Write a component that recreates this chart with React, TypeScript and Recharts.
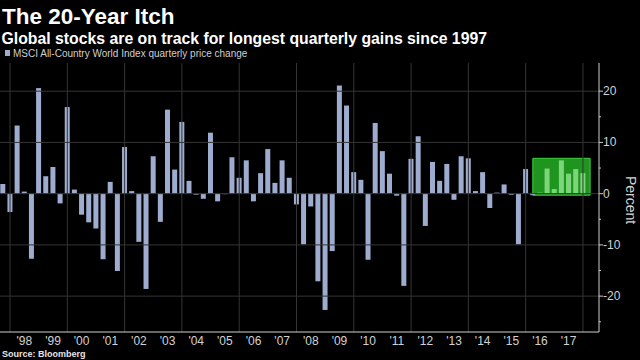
import { BarChart, Bar, XAxis, YAxis, ReferenceLine, ReferenceArea, Cell } from "recharts";

const quarterLabels = [
  "Q3 1997", "Q4 1997",
  "Q1 1998", "Q2 1998", "Q3 1998", "Q4 1998",
  "Q1 1999", "Q2 1999", "Q3 1999", "Q4 1999",
  "Q1 2000", "Q2 2000", "Q3 2000", "Q4 2000",
  "Q1 2001", "Q2 2001", "Q3 2001", "Q4 2001",
  "Q1 2002", "Q2 2002", "Q3 2002", "Q4 2002",
  "Q1 2003", "Q2 2003", "Q3 2003", "Q4 2003",
  "Q1 2004", "Q2 2004", "Q3 2004", "Q4 2004",
  "Q1 2005", "Q2 2005", "Q3 2005", "Q4 2005",
  "Q1 2006", "Q2 2006", "Q3 2006", "Q4 2006",
  "Q1 2007", "Q2 2007", "Q3 2007", "Q4 2007",
  "Q1 2008", "Q2 2008", "Q3 2008", "Q4 2008",
  "Q1 2009", "Q2 2009", "Q3 2009", "Q4 2009",
  "Q1 2010", "Q2 2010", "Q3 2010", "Q4 2010",
  "Q1 2011", "Q2 2011", "Q3 2011", "Q4 2011",
  "Q1 2012", "Q2 2012", "Q3 2012", "Q4 2012",
  "Q1 2013", "Q2 2013", "Q3 2013", "Q4 2013",
  "Q1 2014", "Q2 2014", "Q3 2014", "Q4 2014",
  "Q1 2015", "Q2 2015", "Q3 2015", "Q4 2015",
  "Q1 2016", "Q2 2016", "Q3 2016", "Q4 2016",
  "Q1 2017", "Q2 2017", "Q3 2017", "Q4 2017",
];

// MSCI ACWI quarterly price change, %
const priceChange = [
  1.9, -3.6,
  13.3, 0.4, -12.7, 20.6,
  3.4, 5.2, -1.9, 16.9,
  0.8, -4.1, -5.6, -6.8,
  -12.8, 2.3, -15.1, 9.1,
  0.5, -9.4, -18.6, 7.3,
  -5.5, 16.4, 4.7, 14.0,
  2.5, -0.2, -1.0, 11.9,
  -1.5, -0.1, 7.1, 3.1,
  6.5, -1.5, 4.0, 8.7,
  2.1, 6.5, 3.1, -2.1,
  -9.9, -2.5, -17.1, -22.7,
  -11.2, 21.1, 17.2, 4.2,
  2.7, -12.9, 13.8, 8.3,
  3.9, -0.4, -18.0, 6.8,
  11.2, -6.3, 6.2, 2.5,
  5.8, -1.2, 7.3, 6.9,
  0.5, 4.2, -2.8, 0.2,
  1.8, -0.2, -9.9, 4.8,
  -0.3, 0.2, 4.9, 0.9,
  6.5, 3.9, 4.8, 4.0,
];

const yearBoundaries = [1998, 1999, 2000, 2001, 2002, 2003, 2004, 2005, 2006, 2007, 2008, 2009, 2010, 2011, 2012, 2013, 2014, 2015, 2016, 2017, 2018];
const yearLabels = ["'98", "'99", "'00", "'01", "'02", "'03", "'04", "'05", "'06", "'07", "'08", "'09", "'10", "'11", "'12", "'13", "'14", "'15", "'16", "'17"];
const gridYears = [1998, 2000, 2002, 2004, 2006, 2008, 2010, 2012, 2014, 2016, 2018];
const yTicks = [-25, -20, -15, -10, -5, 0, 5, 10, 15, 20];
const gridValues = [-20, -10, 0, 10, 20];

// streak of gains, Q2 2016 onwards
const highlight = { from: 2016.25, to: 2018.25, top: 6.9, bottom: -0.3, firstQuarter: "Q2 2016" };

const xDomain = [1997.65, 2018.56];
const yDomain = [-27, 25.5];

// quarter-end position on a decimal year scale
const toYear = (label: string) => {
  const [q, y] = label.split(" ");
  return Number(y) + Number(q.slice(1)) / 4;
};

const highlightX = toYear(highlight.firstQuarter);
const data = quarterLabels.map((label, i) => ({ label, x: toYear(label), value: priceChange[i] }));
const labelTicks = yearBoundaries.slice(0, -1).map((y) => y + 0.5);

const FONT = "'Liberation Sans', Arial, sans-serif";

function YTick(props: any) {
  const { x, y, payload } = props;
  const major = payload.value % 10 === 0;
  return (
    <g>
      <line x1={x - 4} x2={major ? x : x - 2} y1={y} y2={y} stroke="#c8c8c8" />
      {major && (
        <text x={x} y={y} dy={4} fill="#d2d2d2" fontSize={12} fontFamily={FONT}>
          {payload.value}
        </text>
      )}
    </g>
  );
}

export default function App() {
  return (
    <div style={{ position: "absolute", left: 0, top: 0, width: 640, height: 360, background: "#000", fontFamily: FONT, overflow: "hidden" }}>
      <div style={{ position: "absolute", left: 2, top: 5.5, fontSize: 22.5, lineHeight: 1, fontWeight: 700, color: "#fff", whiteSpace: "nowrap" }}>
        The 20-Year Itch
      </div>
      <div style={{ position: "absolute", left: 1.5, top: 30.6, fontSize: 15.8, lineHeight: 1, fontWeight: 700, color: "#fff", whiteSpace: "nowrap" }}>
        Global stocks are on track for longest quarterly gains since 1997
      </div>
      <div style={{ position: "absolute", left: 5, top: 50, width: 5, height: 6, background: "#9eaccf" }} />
      <div style={{ position: "absolute", left: 13, top: 49, fontSize: 10, lineHeight: 1, color: "#cfcfcf", whiteSpace: "nowrap" }}>
        MSCI All-Country World Index quarterly price change
      </div>
      <BarChart width={640} height={360} data={data} margin={{ top: 63, right: 0, left: 0, bottom: 26 }}>
        {gridValues.map((v) => (
          <ReferenceLine key={"h" + v} y={v} stroke="#353535" />
        ))}
        {gridYears.map((v) => (
          <ReferenceLine key={"v" + v} x={v} stroke="#353535" />
        ))}
        <ReferenceArea
          x1={highlight.from}
          x2={highlight.to}
          y1={highlight.bottom}
          y2={highlight.top}
          fill="#1f951f"
          fillOpacity={1}
          stroke="#3fcf3f"
          strokeWidth={1}
        />
        <XAxis
          dataKey="x"
          type="number"
          domain={xDomain}
          ticks={yearBoundaries}
          interval={0}
          height={1}
          tick={false}
          tickSize={15}
          tickLine={{ stroke: "#8a8a8a" }}
          axisLine={{ stroke: "#cfcfcf" }}
          allowDataOverflow
        />
        <XAxis
          xAxisId="lab"
          dataKey="x"
          type="number"
          domain={xDomain}
          ticks={labelTicks}
          interval={0}
          height={1}
          tickLine={false}
          axisLine={false}
          tickSize={3}
          tickMargin={0}
          tickFormatter={(v: number) => yearLabels[Math.floor(v) - yearBoundaries[0]]}
          tick={{ fill: "#d2d2d2", fontSize: 12 }}
          allowDataOverflow
        />
        <YAxis
          orientation="right"
          type="number"
          domain={yDomain}
          ticks={yTicks}
          interval={0}
          width={41}
          tickSize={4}
          tickMargin={0}
          tickLine={false}
          axisLine={{ stroke: "#cfcfcf" }}
          tick={<YTick />}
          allowDataOverflow
        />
        <Bar dataKey="value" barSize={5} isAnimationActive={false}>
          {data.map((d) => (
            <Cell key={d.label} fill={d.x >= highlightX ? "#7dd57a" : "#9eaccf"} />
          ))}
        </Bar>
      </BarChart>
      <div style={{ position: "absolute", left: 631, top: 200, fontSize: 14, lineHeight: 1, color: "#d2d2d2", transform: "translate(-50%, -50%) rotate(90deg)", whiteSpace: "nowrap" }}>
        Percent
      </div>
      <div style={{ position: "absolute", left: 2, top: 349.7, fontSize: 9, lineHeight: 1, fontWeight: 700, color: "#e6e6e6", whiteSpace: "nowrap" }}>
        Source: Bloomberg
      </div>
    </div>
  );
}
